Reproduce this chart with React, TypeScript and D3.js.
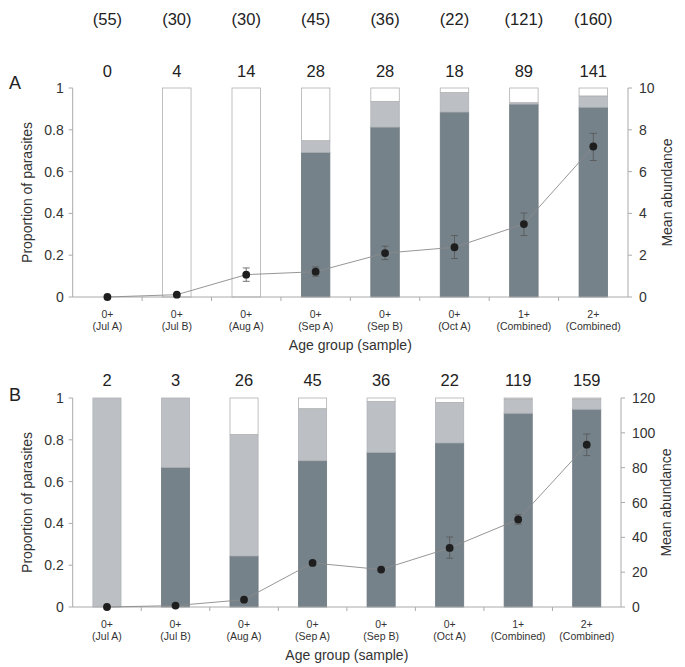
import React from "react";
import * as d3 from "d3";

const categories = ["Jul A", "Jul B", "Aug A", "Sep A", "Sep B", "Oct A", "Combined", "Combined"];
const ageGroups = ["0+", "0+", "0+", "0+", "0+", "0+", "1+", "2+"];
const sampleSizes = ["(55)", "(30)", "(30)", "(45)", "(36)", "(22)", "(121)", "(160)"];

// Panel A
const countsA = [0, 4, 14, 28, 28, 18, 89, 141];
const darkA = [0, 0, 0, 0.692, 0.813, 0.885, 0.923, 0.908];
const lightA = [0, 0, 0, 0.056, 0.123, 0.093, 0.007, 0.054];
const whiteA = [0, 1, 1, 0.252, 0.064, 0.022, 0.07, 0.038];
const meanA = [0, 0.11, 1.07, 1.21, 2.1, 2.38, 3.49, 7.2];
const errLoA = [0, 0.11, 0.75, 0.99, 1.79, 1.84, 2.94, 6.53];
const errHiA = [0, 0.11, 1.39, 1.44, 2.43, 2.94, 4.02, 7.83];
const rightTicksA = [0, 2, 4, 6, 8, 10];

// Panel B
const countsB = [2, 3, 26, 45, 36, 22, 119, 159];
const darkB = [0, 0.668, 0.244, 0.70, 0.74, 0.785, 0.927, 0.946];
const lightB = [1, 0.332, 0.581, 0.249, 0.244, 0.194, 0.068, 0.049];
const whiteB = [0, 0, 0.175, 0.051, 0.016, 0.021, 0.005, 0.005];
const meanB = [0, 0.8, 4.2, 25.3, 21.5, 33.9, 50.3, 93.2];
const errLoB = [0, 0.8, 4.2, 25.3, 21.5, 28, 47.6, 86.9];
const errHiB = [0, 0.8, 4.2, 25.3, 21.5, 40.2, 53, 99.3];
const rightTicksB = [0, 20, 40, 60, 80, 100, 120];

const leftTicks = [0, 0.2, 0.4, 0.6, 0.8, 1];

const FONT = "'Liberation Sans', Arial, Helvetica, sans-serif";
const DARK = "#76828a";
const LIGHT = "#bcc0c4";
const AXIS = "#aaaaaa";

type PanelProps = {
  label: string;
  counts: number[];
  dark: number[];
  light: number[];
  white: number[];
  mean: number[];
  lo: number[];
  hi: number[];
  rMax: number;
  rTicks: number[];
  left: number;
  right: number;
  top: number;
  bottom: number;
  countY: number;
  labelY: number;
  rTitleX: number;
};

function Panel(p: PanelProps) {
  const keys = categories.map((_, i) => String(i));
  const x = d3.scaleBand<string>().domain(keys).range([p.left, p.right]).paddingInner(0.59).paddingOuter(0.295);
  const y = d3.scaleLinear().domain([0, 1]).range([p.bottom, p.top]);
  const yr = d3.scaleLinear().domain([0, p.rMax]).range([p.bottom, p.top]);
  const step = x.step();
  const line = d3
    .line<number>()
    .x((_, i) => (x(keys[i]) as number) + x.bandwidth() / 2)
    .y((d) => yr(d));

  const bars: React.ReactNode[] = [];
  categories.forEach((_, i) => {
    const bx = x(keys[i]) as number;
    const w = x.bandwidth();
    let acc = 0;
    const segs: [number, string][] = [
      [p.dark[i], DARK],
      [p.light[i], LIGHT],
      [p.white[i], "#ffffff"],
    ];
    segs.forEach(([v, c], j) => {
      if (v <= 0) return;
      const y0 = y(acc);
      const y1 = y(acc + v);
      acc += v;
      bars.push(
        <rect
          key={`b${i}-${j}`}
          x={bx}
          y={y1}
          width={w}
          height={y0 - y1}
          fill={c}
          stroke={c === "#ffffff" ? "#b0b0b0" : c === LIGHT ? "#aeb2b6" : "#6d787f"}
          strokeWidth={0.8}
        />
      );
    });
  });

  const midX = (p.left + p.right) / 2;
  const midY = (p.top + p.bottom) / 2;

  return (
    <g fontFamily={FONT}>
      <text x={9} y={p.labelY} fontSize={18} fill="#222">
        {p.label}
      </text>
      {bars}
      {/* left axis */}
      <line x1={p.left} x2={p.left} y1={p.top} y2={p.bottom} stroke={AXIS} />
      {leftTicks.map((t) => (
        <g key={`lt${t}`}>
          <line x1={p.left - 4} x2={p.left} y1={y(t)} y2={y(t)} stroke={AXIS} />
          <text x={p.left - 9} y={y(t) + 5} fontSize={14} textAnchor="end" fill="#333">
            {String(t)}
          </text>
        </g>
      ))}
      {/* right axis */}
      <line x1={p.right} x2={p.right} y1={p.top} y2={p.bottom} stroke={AXIS} />
      {p.rTicks.map((t) => (
        <g key={`rt${t}`}>
          <line x1={p.right} x2={p.right + 4} y1={yr(t)} y2={yr(t)} stroke={AXIS} />
          <text x={p.right + 11} y={yr(t) + 5} fontSize={14} textAnchor="start" fill="#333">
            {String(t)}
          </text>
        </g>
      ))}
      {/* bottom axis */}
      <line x1={p.left} x2={p.right} y1={p.bottom} y2={p.bottom} stroke={AXIS} />
      {keys.map((k, i) =>
        i === 0 ? null : (
          <line
            key={`xt${k}`}
            x1={(x(k) as number) - (step - x.bandwidth()) / 2}
            x2={(x(k) as number) - (step - x.bandwidth()) / 2}
            y1={p.bottom}
            y2={p.bottom + 4}
            stroke={AXIS}
          />
        )
      )}
      {keys.map((k, i) => {
        const cx = (x(k) as number) + x.bandwidth() / 2;
        return (
          <g key={`xl${k}`} fontSize={10.5} fill="#333" textAnchor="middle">
            <text x={cx} y={p.bottom + 21}>
              {ageGroups[i]}
            </text>
            <text x={cx} y={p.bottom + 33}>
              {`(${categories[i]})`}
            </text>
          </g>
        );
      })}
      <text x={midX} y={p.bottom + 53} fontSize={14} textAnchor="middle" fill="#333">
        Age group (sample)
      </text>
      <text
        transform={`translate(32,${midY}) rotate(-90)`}
        fontSize={14}
        textAnchor="middle"
        fill="#333"
      >
        Proportion of parasites
      </text>
      <text
        transform={`translate(${p.rTitleX},${midY}) rotate(-90)`}
        fontSize={14}
        textAnchor="middle"
        fill="#333"
      >
        Mean abundance
      </text>
      {/* counts */}
      {keys.map((k, i) => (
        <text
          key={`c${k}`}
          x={(x(k) as number) + x.bandwidth() / 2}
          y={p.countY}
          fontSize={16.5}
          textAnchor="middle"
          fill="#222"
        >
          {String(p.counts[i])}
        </text>
      ))}
      {/* mean line */}
      <path d={line(p.mean) || ""} fill="none" stroke="#8a8a8a" strokeWidth={0.9} />
      {keys.map((k, i) => {
        const cx = (x(k) as number) + x.bandwidth() / 2;
        const hasErr = p.hi[i] - p.lo[i] > 0;
        return (
          <g key={`m${k}`}>
            {hasErr && (
              <g stroke="#555" strokeWidth={0.8}>
                <line x1={cx} x2={cx} y1={yr(p.lo[i])} y2={yr(p.hi[i])} />
                <line x1={cx - 3.5} x2={cx + 3.5} y1={yr(p.lo[i])} y2={yr(p.lo[i])} />
                <line x1={cx - 3.5} x2={cx + 3.5} y1={yr(p.hi[i])} y2={yr(p.hi[i])} />
              </g>
            )}
            <circle cx={cx} cy={yr(p.mean[i])} r={3.9} fill="#1e1e1e" />
          </g>
        );
      })}
    </g>
  );
}

export default function App() {
  const left = 72.7;
  const xTop = d3.scaleBand<string>().domain(categories.map((_, i) => String(i))).range([left, 628]).paddingInner(0.59).paddingOuter(0.295);
  return (
    <svg width={685} height={667} style={{ position: "absolute", left: 0, top: 0, background: "#fff" }}>
      <rect width={685} height={667} fill="#fff" />
      {sampleSizes.map((s, i) => (
        <text
          key={`s${i}`}
          x={(xTop(String(i)) as number) + xTop.bandwidth() / 2}
          y={25}
          fontSize={16.5}
          textAnchor="middle"
          fill="#222"
          fontFamily={FONT}
        >
          {s}
        </text>
      ))}
      <Panel
        label="A"
        counts={countsA}
        dark={darkA}
        light={lightA}
        white={whiteA}
        mean={meanA}
        lo={errLoA}
        hi={errHiA}
        rMax={10}
        rTicks={rightTicksA}
        left={left}
        right={628}
        top={88}
        bottom={297}
        countY={77}
        labelY={89}
        rTitleX={672}
      />
      <Panel
        label="B"
        counts={countsB}
        dark={darkB}
        light={lightB}
        white={whiteB}
        mean={meanB}
        lo={errLoB}
        hi={errHiB}
        rMax={120}
        rTicks={rightTicksB}
        left={left}
        right={621}
        top={398}
        bottom={607}
        countY={386}
        labelY={401}
        rTitleX={671}
      />
    </svg>
  );
}
